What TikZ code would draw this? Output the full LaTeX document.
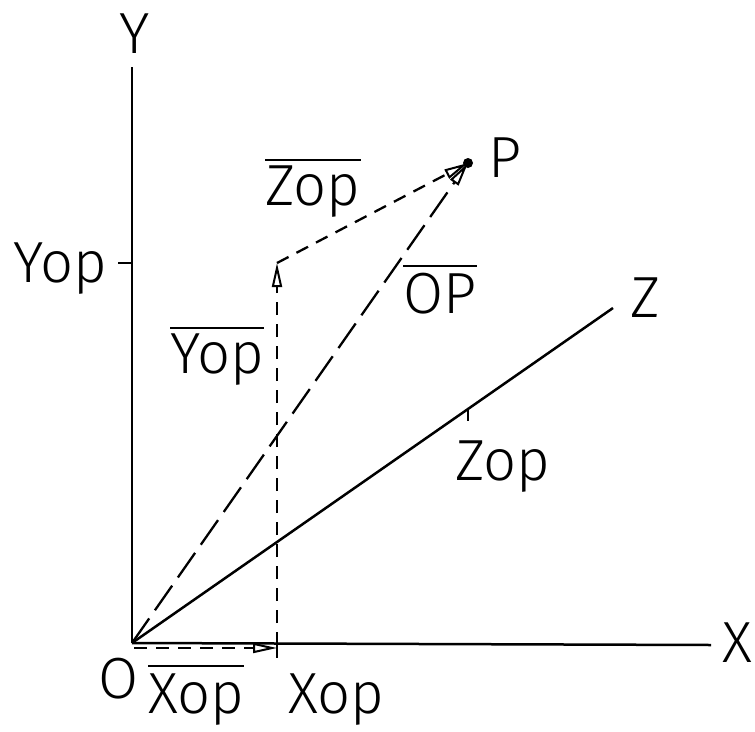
\documentclass[tikz,border=0pt]{standalone}
\usepackage{fontspec}
\setmainfont{Fira Sans}[UprightFont = * Light]
\usetikzlibrary{arrows.meta,calc}
\tikzset{
  axis/.style={line width=2.5pt},
  dsh/.style={line width=2.3pt, dash pattern=on 13pt off 9pt},
  longdsh/.style={line width=2.3pt, dash pattern=on 30pt off 10pt},
  tip/.style={-{Triangle[open,length=24pt,width=10pt,line width=2pt]}},
  lbl/.style={inner sep=0pt, font=\fontsize{58}{60}\selectfont, text height=40pt, text depth=0pt},
  bar/.style={line width=2.5pt}
}
\begin{document}
\begin{tikzpicture}[x=1pt,y=-1pt]
\useasboundingbox (0,0) rectangle (755,731);
% points
\coordinate (O) at (132,643);
\coordinate (Ytop) at (132,67);
\coordinate (Xend) at (711,645);
\coordinate (Zend) at (613,308);
\coordinate (P) at (468,163);
\coordinate (Xp) at (277,645);
\coordinate (Xpt) at (277,635);
\coordinate (Xpb) at (277,658);
\coordinate (Yp) at (132,263);
\coordinate (Ypl) at (118,263);
\coordinate (C) at (277,263);
\coordinate (Zp) at (468,409);
\coordinate (Zpb) at (468,421);
\coordinate (Od) at (134,648);
\coordinate (Xd) at (277,648);
% axes
\draw[axis] (O) -- (Ytop);
\draw[axis] (O) -- (Xend);
\draw[axis] (O) -- (Zend);
% ticks
\draw[axis] (Xpt) -- (Xpb);
\draw[axis] (Ypl) -- (Yp);
\draw[axis] (Zp) -- (Zpb);
% dashed vectors
\draw[dsh,tip] (Od) -- (Xd);
\draw[dsh,tip] (Xp) -- (C);
\draw[dsh,tip] (C) -- (P);
\draw[longdsh,tip] (O) -- (P);
\fill (P) circle (5pt);
% labels
\node[lbl,anchor=base west] (lY) at (119,53) {Y};
\node[lbl,anchor=base west] (lX) at (722,662) {X};
\node[lbl,anchor=base west] (lZ) at (630,317) {Z};
\node[lbl,anchor=base west] (lP) at (488,177) {P};
\node[lbl,anchor=base west] (lO) at (98,698) {O};
\node[lbl,anchor=base west] (lYop) at (13,282) {Yop};
\node[lbl,anchor=base west] (lXop) at (288,713) {Xop};
\node[lbl,anchor=base west] (lZop) at (455,480) {Zop};
\node[lbl,anchor=base west] (bZop) at (265,205) {Zop};
\node[lbl,anchor=base west] (bYop) at (170,373) {Yop};
\node[lbl,anchor=base west] (bOP) at (403,313) {OP};
\node[lbl,anchor=base west] (bXop) at (148,713) {Xop};
% overbars
\draw[bar] ([yshift=5pt]bZop.north west) -- ([yshift=5pt]bZop.north east);
\draw[bar] ([yshift=5pt]bYop.north west) -- ([yshift=5pt]bYop.north east);
\draw[bar] ([yshift=7pt]bOP.north west) -- ([yshift=7pt]bOP.north east);
\draw[bar] ([yshift=7pt]bXop.north west) -- ([yshift=7pt]bXop.north east);
\end{tikzpicture}
\end{document}
